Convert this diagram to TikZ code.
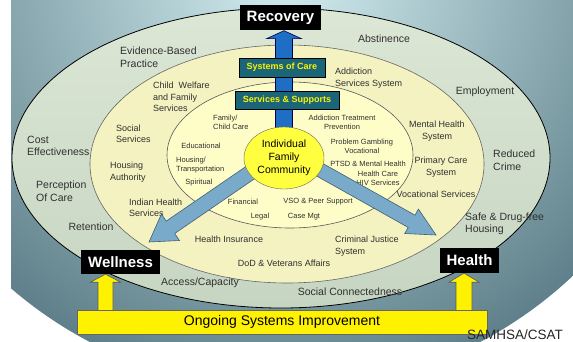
\documentclass[tikz,border=0pt]{standalone}
\usepackage{fontspec}
\setmainfont{Liberation Sans}
\usetikzlibrary{calc}
\usetikzlibrary{shapes.geometric}

\definecolor{bglight}{HTML}{D4EFF2}
\definecolor{bgdark}{HTML}{5F808A}
\definecolor{outertop}{HTML}{DCE7D5}
\definecolor{outerbot}{HTML}{C6D5C2}
\definecolor{midfill}{HTML}{F4F2C1}
\definecolor{innerfill}{HTML}{FEFDC8}
\definecolor{commfill}{HTML}{FFFF40}
\definecolor{tealfill}{HTML}{1A6678}
\definecolor{upblue}{HTML}{1E6EC6}
\definecolor{diagblue}{HTML}{7AAACA}
\definecolor{txt}{HTML}{303030}

\pgfdeclarelayer{bg}
\pgfdeclarelayer{arr}
\pgfsetlayers{bg,arr,main}

\newcommand\blockarrow[6]{
	\coordinate (ba-h) at ($(#3)!#6!(#2)$);
	\draw[#1] ($(#2)!#4!90:(#3)$) -- ($(ba-h)!#4!90:(#3)$) -- ($(ba-h)!#5!90:(#3)$) -- (#3)
		-- ($(ba-h)!#5!-90:(#3)$) -- ($(ba-h)!#4!-90:(#3)$) -- ($(#2)!#4!-90:(#3)$) -- cycle;
}

\begin{document}
\begin{tikzpicture}[x=1pt, y=-1pt,
		outer/.style = {font=\fontsize{10.5}{12.5}\selectfont, text=txt, align=left, inner sep=0pt},
		mid/.style = {font=\fontsize{9}{11.5}\selectfont, text=txt, align=left, inner sep=0pt},
		inner/.style = {font=\fontsize{7.5}{9}\selectfont, text=txt, align=left, inner sep=0pt},
		blackbox/.style = {fill=black, text=white, font=\fontsize{15}{15}\bfseries\selectfont, inner sep=0pt, minimum height=25pt},
		tealbox/.style = {draw=black, fill=tealfill, text=yellow, font=\fontsize{9}{9}\bfseries\selectfont, inner sep=0pt, minimum height=18.5pt},
		yarrow/.style = {draw=black!65, fill=yellow, line width=0.6pt},
		uparrow/.style = {draw=black!70!blue, fill=upblue, line width=0.6pt},
		diagarrow/.style = {draw=black!45!diagblue, fill=diagblue, line width=0.6pt}
	]
		
		\useasboundingbox (0,0) rectangle (573,342);
		
		\begin{pgfonlayer}{bg}
		\fill[white] (0,0) rectangle (573,342);
		\begin{scope}
			\clip (11,0) rectangle (573,342);
			\shade[inner color=bglight, outer color=bgdark] (285,-30) circle (420pt);
		\end{scope}
		\draw[draw=black, line width=0.8pt, top color=outertop, bottom color=outerbot] (281,158) ellipse [x radius=269pt, y radius=150pt];
		\draw[draw=black!60, line width=0.6pt, fill=midfill] (287,164) ellipse [x radius=197pt, y radius=119pt];
		\draw[draw=black!65, line width=0.6pt, fill=innerfill] (290,155) ellipse [x radius=123pt, y radius=73pt];
		
		\node[outer, anchor=west] at (120,57) (ebp) {Evidence-Based\\Practice};
		\node[outer] at (384,39) (abst) {Abstinence};
		\node[outer] at (485,92) (empl) {Employment};
		\node[outer, anchor=west] at (493,160) (crime) {Reduced\\Crime};
		\node[outer, anchor=west] at (465,224) (safe) {Safe \& Drug-free\\Housing};
		\node[outer] at (350,292) (socc) {Social Connectedness};
		\node[outer] at (200,283) (acc) {Access/Capacity};
		\node[outer] at (91,227) (ret) {Retention};
		\node[outer, anchor=west] at (36,191) (perc) {Perception\\Of Care};
		\node[outer, anchor=west] at (27,146) (cost) {Cost\\Effectiveness};
		
		\node[mid, anchor=west] at (153,97) (cwf) {Child~ Welfare\\and Family\\Services};
		\node[mid, anchor=west] at (335,78) (ass) {Addiction\\Services System};
		\node[mid, anchor=west] at (116,134) (ss) {Social\\Services};
		\node[mid, anchor=west] at (110,172) (ha) {Housing\\Authority};
		\node[mid, anchor=west] at (129,208) (ihs) {Indian Health\\Services};
		\node[mid] at (229,239) (hi) {Health Insurance};
		\node[mid] at (284,263) (dod) {DoD \& Veterans Affairs};
		\node[mid, anchor=west] at (335,246) (cjs) {Criminal Justice\\System};
		\node[mid] at (436,194) (vs) {Vocational Services};
		\node[mid, align=center] at (441,167) (pcs) {Primary Care\\System};
		\node[mid, align=center] at (437,131) (mhs) {Mental Health\\System};
		
		\node[inner, anchor=west] at (213,122) (fcc) {Family/\\Child Care};
		\node[inner] at (201,146) (edu) {Educational};
		\node[inner, anchor=west] at (176,165) (ht) {Housing/\\Transportation};
		\node[inner] at (199,183) (spir) {Spiritual};
		\node[inner] at (243,202) (fin) {Financial};
		\node[inner] at (260,217) (legal) {Legal};
		\node[inner] at (318,202) (vso) {VSO \& Peer Support};
		\node[inner] at (304,217) (cm) {Case Mgt};
		\node[inner, align=center] at (342,122) (atp) {Addiction Treatment\\Prevention};
		\node[inner, align=center] at (362,146) (pgv) {Problem Gambling\\Vocational};
		\node[inner] at (368,164) (ptsd) {PTSD \& Mental Health};
		\node[inner, align=center] at (378,178) (hc) {Health Care\\HIV Services};
		\end{pgfonlayer}
		
		\node[ellipse, draw=black!60, fill=commfill, minimum width=80pt, minimum height=62pt, inner sep=0pt, align=center, font=\fontsize{10.5}{13}\selectfont] at (284,158) (comm) {Individual\\Family\\Community};
		\node[blackbox, minimum width=81pt] at (280.5,18) (rec) {Recovery};
		\node[tealbox, minimum width=86pt] at (282,67.5) (soc) {Systems of Care};
		\node[tealbox, minimum width=104pt] at (287,100) (sns) {Services \& Supports};
		\node[blackbox, minimum width=79pt, minimum height=24pt] at (120.5,262) (well) {Wellness};
		\node[blackbox, minimum width=59pt] at (469.5,260.5) (health) {Health};
		\node[draw=black!60, fill=yellow, line width=0.8pt, minimum width=410pt, minimum height=24pt, inner sep=0pt, font=\fontsize{14}{14}\selectfont] at (282,322) (osi) {Ongoing Systems Improvement};
		\node[font=\fontsize{13.5}{13.5}\selectfont, anchor=base, inner sep=0pt, text=black!85] at (515,339.5) (samhsa) {SAMHSA/CSAT};
		
		\begin{pgfonlayer}{arr}
		\coordinate (utip) at (comm.center |- rec.south);
		\blockarrow{uparrow}{comm.center}{utip}{8.5pt}{17.5pt}{8pt}
		\coordinate (ltail) at ($(comm.center)+(-8,-3)$);
		\coordinate (ltip) at (149,242);
		\blockarrow{diagarrow}{ltail}{ltip}{7.5pt}{16pt}{26pt}
		\coordinate (rtail) at ($(comm.center)+(13,-1)$);
		\coordinate (rtip) at (436,235);
		\blockarrow{diagarrow}{rtail}{rtip}{7pt}{14pt}{28pt}
		\coordinate (wbase) at (105.5,318);
		\coordinate (wtip) at (wbase |- well.south);
		\blockarrow{yarrow}{wbase}{wtip}{7.5pt}{15pt}{8pt}
		\coordinate (hbase) at (464,318);
		\coordinate (htip) at (hbase |- health.south);
		\blockarrow{yarrow}{hbase}{htip}{8pt}{15pt}{9pt}
		\end{pgfonlayer}
		
		\end{tikzpicture}
\end{document}
